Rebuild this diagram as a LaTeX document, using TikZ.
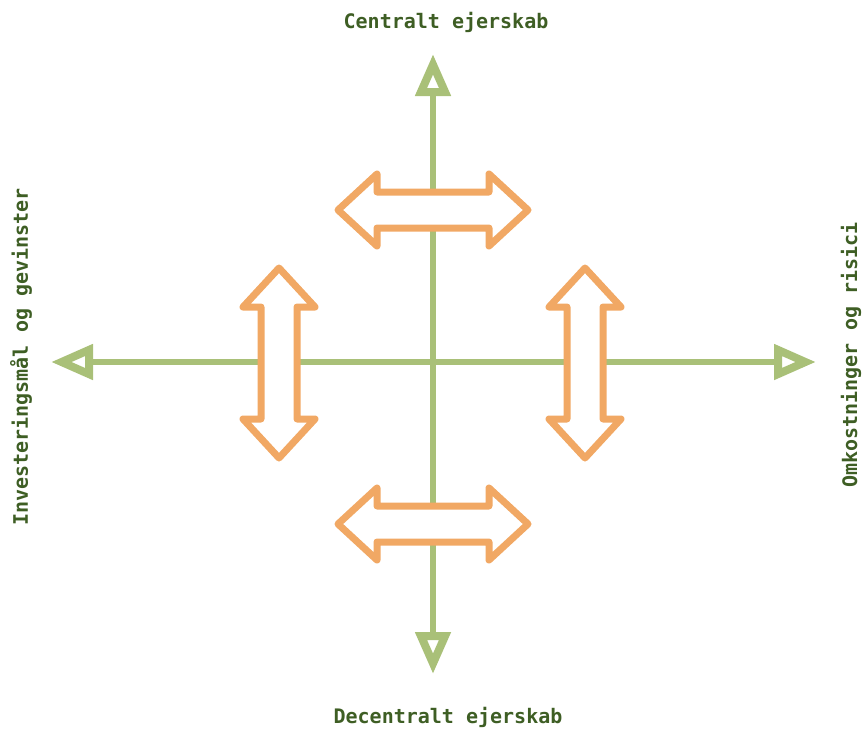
\documentclass[tikz,border=0pt]{standalone}
\usepackage{fontspec}
\setmonofont{DejaVu Sans Mono}
\usepackage{tikz}
\usetikzlibrary{positioning}
\usetikzlibrary{arrows.meta}

\definecolor{axisgreen}{RGB}{169,192,120}
\definecolor{arroworange}{RGB}{241,168,100}
\definecolor{labelgreen}{RGB}{62,94,36}

\tikzset{
  axis/.style={draw=axisgreen, line width=6pt,
    {Triangle[open, length=42pt, width=34pt, line width=8pt]}-{Triangle[open, length=42pt, width=34pt, line width=8pt]}},
  axislabel/.style={text=labelgreen, font=\ttfamily\bfseries\fontsize{20}{24}\selectfont},
  dblarrow/.pic={
    \draw[draw=arroworange, fill=white, line width=7pt, line join=round]
      (-95,0) -- (-56,36) -- (-56,18) -- (56,18) -- (56,36) -- (95,0)
      -- (56,-36) -- (56,-18) -- (-56,-18) -- (-56,-36) -- cycle;
  }
}

\begin{document}
\begin{tikzpicture}[x=1pt, y=-1pt]
\useasboundingbox (0,0) rectangle (867,732);

% axes
\coordinate (north) at (433,54);
\coordinate (south) at (433,674);
\coordinate (west) at (51,362);
\coordinate (east) at (816,362);
\draw[axis] (south) -- (north);
\draw[axis] (west) -- (east);

% labels
\node[axislabel] (top) at (446,22) {Centralt ejerskab};
\node[axislabel] (bottom) at (448,717) {Decentralt ejerskab};
\node[axislabel, rotate=90] (left) at (21,357) {Investeringsmål og gevinster};
\node[axislabel, rotate=90] (right) at (851,355) {Omkostninger og risici};

% double arrows
\pic at (433,210) {dblarrow};
\pic at (433,524) {dblarrow};
\pic[rotate=90] at (279,363) {dblarrow};
\pic[rotate=90] at (585,363) {dblarrow};
\end{tikzpicture}
\end{document}
